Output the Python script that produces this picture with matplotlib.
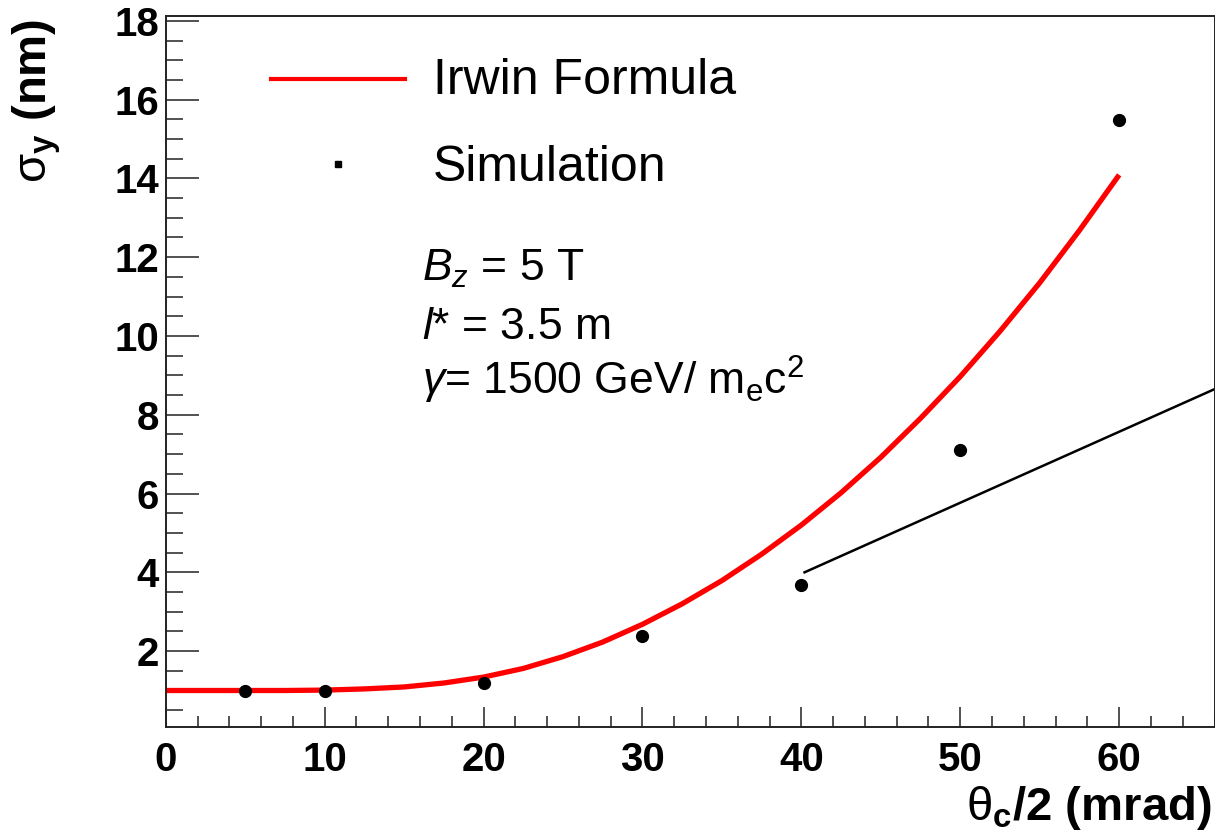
# Beam size sigma_y vs half crossing angle: Irwin formula vs simulation
import matplotlib
matplotlib.use("Agg")
import matplotlib.pyplot as plt
from matplotlib.lines import Line2D
from matplotlib.ticker import MultipleLocator

plt.rcParams['font.family'] = ['Liberation Sans', 'DejaVu Sans']
plt.rcParams['mathtext.fontset'] = 'custom'
plt.rcParams['mathtext.rm'] = 'Liberation Sans'
plt.rcParams['mathtext.it'] = 'Liberation Sans:italic'
plt.rcParams['mathtext.bf'] = 'Liberation Sans:bold'

# Irwin formula curve
irwin_theta = [0, 2.5, 5, 7.5, 10, 12.5, 15, 17.5, 20, 22.5, 25, 27.5, 30,
               32.5, 35, 37.5, 40, 42.5, 45, 47.5, 50, 52.5, 55, 57.5, 60]
irwin_sigma = [1.00, 1.00, 1.00, 1.00, 1.01, 1.04, 1.09, 1.19, 1.34, 1.56,
               1.86, 2.23, 2.68, 3.20, 3.79, 4.46, 5.20, 6.02, 6.92, 7.91,
               8.97, 10.12, 11.35, 12.68, 14.09]

# simulation points
sim_theta = [5, 10, 20, 30, 40, 50, 60]
sim_sigma = [0.98, 0.98, 1.19, 2.38, 3.68, 7.10, 15.48]

# the straight black line at the right
line_theta = [40.2, 66]
line_sigma = [4.0, 8.65]

fig = plt.figure(figsize=(12.15, 8.36), dpi=100)
ax = fig.add_axes([0.1364, 0.1307, 0.8632, 0.8505])

ax.plot(irwin_theta, irwin_sigma, color='#ff0000', lw=3.8, solid_capstyle='butt')
ax.plot(sim_theta, sim_sigma, 'o', color='black', ms=8.5)
ax.plot(line_theta, line_sigma, color='black', lw=1.8, clip_on=False)

ax.set_xlim(0, 66)
ax.set_ylim(0.08, 18.13)

ax.xaxis.set_major_locator(MultipleLocator(10))
ax.xaxis.set_minor_locator(MultipleLocator(2))
ax.yaxis.set_major_locator(MultipleLocator(2))
ax.yaxis.set_minor_locator(MultipleLocator(0.5))

ax.tick_params(axis='both', which='both', direction='in', top=False, right=False,
               width=1.1, color='#222222')
ax.tick_params(axis='x', which='major', length=14.5, pad=10)
ax.tick_params(axis='x', which='minor', length=8)
ax.tick_params(axis='y', which='major', length=24, pad=5)
ax.tick_params(axis='y', which='minor', length=12.5)
for lab in ax.get_xticklabels() + ax.get_yticklabels():
    lab.set_fontsize(29)
    lab.set_fontweight('bold')

for sp in ax.spines.values():
    sp.set_linewidth(1.4)
    sp.set_color('#222222')

# axis titles, ROOT style (right / top aligned)
fig.text(0.9975, 0.019, r'$\mathrm{\theta}_{\mathbf{c}}$/2 (mrad)', fontsize=34,
         fontweight='bold', ha='right', va='baseline')
fig.text(0.030, 0.978, r'$\mathrm{\sigma}_{\mathbf{y}}$ (nm)', fontsize=34,
         fontweight='bold', rotation=90, ha='center', va='top')

# legend drawn by hand
fig.add_artist(Line2D([0.2228, 0.3333], [0.9055, 0.9055], color='#ff0000', lw=3,
                      transform=fig.transFigure))
fig.add_artist(Line2D([0.2782], [0.8038], marker='s', color='black', ms=5,
                      transform=fig.transFigure))
fig.text(0.3564, 0.9031, 'Irwin Formula', fontsize=36, va='center', ha='left')
fig.text(0.3564, 0.7990, 'Simulation', fontsize=36, va='center', ha='left')

# parameters
fig.text(0.347, 0.664, r'$B_z$ = 5 T', fontsize=32, va='baseline')
fig.text(0.347, 0.595, r'$l$* = 3.5 m', fontsize=32, va='baseline')
fig.text(0.347, 0.528, r'$\gamma$= 1500 GeV/ m$_{\mathrm{e}}$c$^{2}$', fontsize=32,
         va='baseline')

fig.savefig('out.png', dpi=100)
